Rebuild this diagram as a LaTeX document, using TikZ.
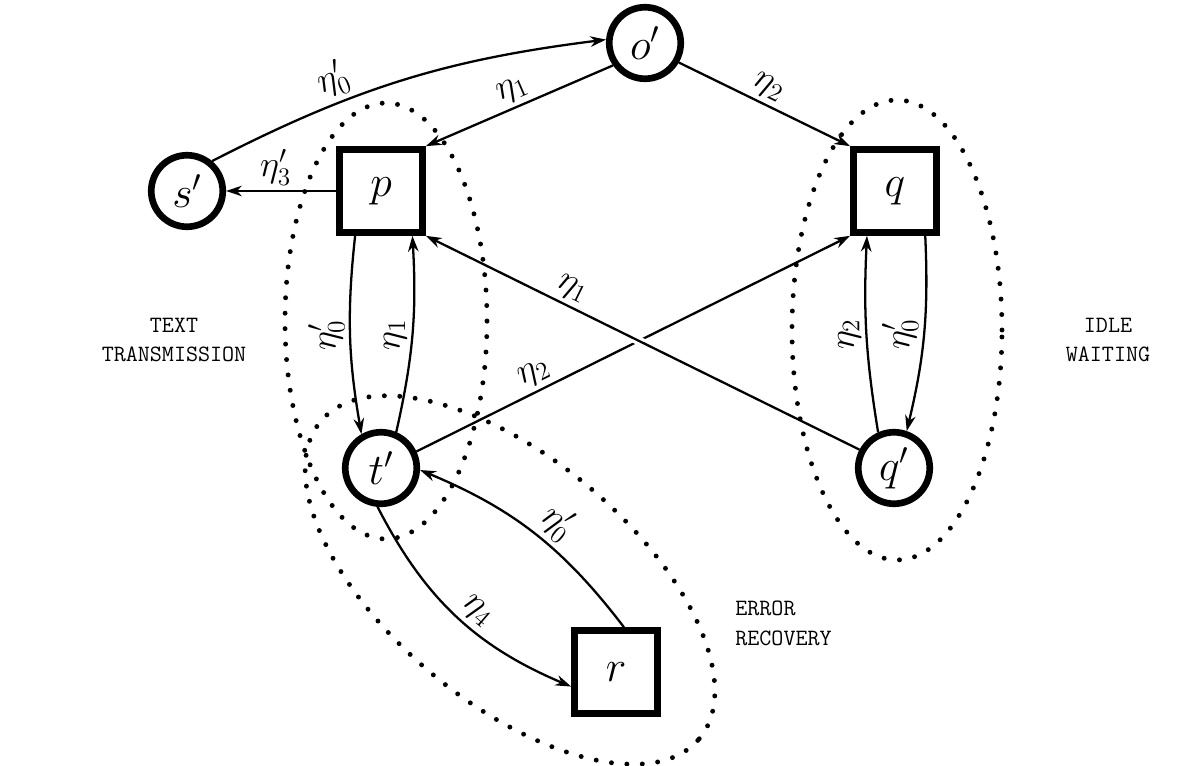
\documentclass[tikz,border=0pt]{standalone}
\usetikzlibrary{arrows.meta}

\begin{document}
\begin{tikzpicture}[
      state/.style={circle, draw, line width=3.8pt, minimum size=1.43cm, inner sep=0pt,
                    font=\fontsize{24}{26}\selectfont},
      buffer/.style={rectangle, draw, line width=3.8pt, minimum size=1.66cm, inner sep=0pt,
                     font=\fontsize{24}{26}\selectfont},
      trans/.style={line width=1.3pt, -{Stealth[length=9pt, width=6pt]}},
      lab/.style={font=\fontsize{21}{24}\selectfont, inner sep=2.5pt},
      region/.style={line width=2.8pt, line cap=round, dash pattern=on 0pt off 8.8pt},
      phase/.style={font=\fontsize{13.3}{17}\selectfont\ttfamily, align=center, inner sep=0pt}]

    \useasboundingbox (0,0) rectangle (23.6,15.32);

    % phase regions (dotted)
    \draw[region] (7.72,8.9) ellipse [x radius=2.02, y radius=4.36];
    \draw[region, rotate around={-40:(10.2,3.72)}] (10.2,3.72) ellipse [x radius=4.94, y radius=2.44];
    \draw[region] (17.94,8.72) ellipse [x radius=2.1, y radius=4.6];

    % states and buffers
    \node[state] (op) at (12.9,14.46) {$o'$};
    \node[state] (sp) at (3.74,11.5) {$s'$};
    \node[buffer] (p) at (7.62,11.5) {$p$};
    \node[buffer] (q) at (17.9,11.5) {$q$};
    \node[state] (tp) at (7.62,5.96) {$t'$};
    \node[state] (qp) at (17.88,5.96) {$q'$};
    \node[buffer] (r) at (12.32,1.88) {$r$};

    % phase names
    \node[phase] (txt) at (3.48,8.52) {TEXT\\TRANSMISSION};
    \node[phase] (idle) at (22.16,8.52) {IDLE\\WAITING};
    \node[phase, align=left, anchor=west] (err) at (14.7,2.86) {ERROR\\RECOVERY};

    % transitions
    \draw[trans] (sp.50) to[bend left=10] node[lab, pos=.33, above, sloped] {$\eta'_0$} (op.175);
    \draw[trans] (op.215) -- node[lab, pos=.5, above, sloped] {$\eta_1$} (p.north east);
    \draw[trans] (op.-30) -- node[lab, pos=.48, above, sloped] {$\eta_2$} (q.north west);
    \draw[trans] (p.west) -- node[lab, pos=.55, above] {$\eta'_3$} (sp.east);
    % p <-> t'
    \draw[trans] (p.-120) to[bend right=8] node[lab, rotate=90, anchor=south] {$\eta'_0$} (tp.120);
    \draw[trans] (tp.67) to[bend right=8] node[lab, rotate=90, anchor=south] {$\eta_1$} (p.-55);
    % q <-> q'
    \draw[trans] (q.-56) to[bend left=8] node[lab, rotate=90, anchor=south] {$\eta'_0$} (qp.71);
    \draw[trans] (qp.114) to[bend left=6] node[lab, rotate=90, anchor=south] {$\eta_2$} (q.-122);
    % the crossing pair
    \draw[trans] (tp.25) -- node[lab, pos=.29, above, sloped] {$\eta_2$} (q.south west);
    \draw[trans, preaction={draw=white, line width=5pt, -, shorten <=4.6cm, shorten >=4.3cm}]
      (qp.152) -- node[lab, pos=.68, above, sloped] {$\eta_1$} (p.south east);
    % t' <-> r
    \draw[trans] (tp.-95) to[bend right=20] node[lab, pos=.55, above, sloped] {$\eta_4$} (r.-162);
    \draw[trans] (r.80) to[bend right=15] node[lab, pos=.45, above, sloped] {$\eta'_0$} (tp.-3);
\end{tikzpicture}
\end{document}
